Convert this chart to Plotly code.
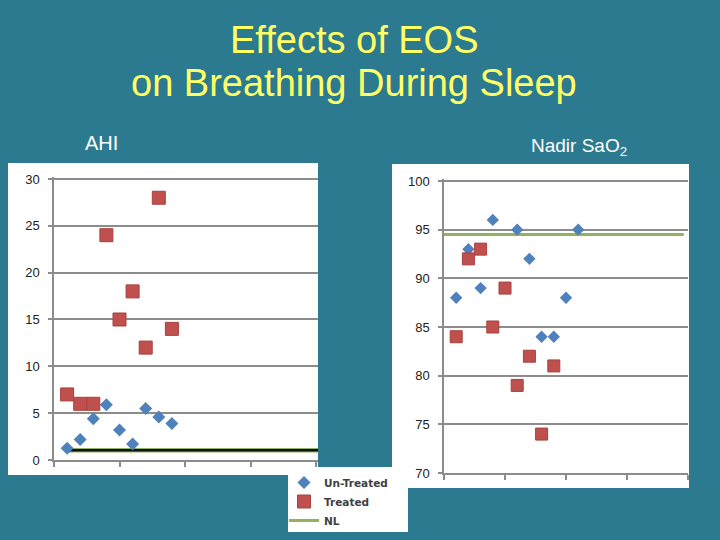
import plotly.graph_objects as go

# ---- data ----
ahi_x = [1, 2, 3, 4, 5, 6, 7, 8, 9]
ahi_untreated = [1.25, 2.2, 4.4, 5.9, 3.2, 1.7, 5.5, 4.6, 3.9]
ahi_treated = [7, 6, 6, 24, 15, 18, 12, 28, 14]
ahi_nl_x = [1, 21]
ahi_nl = [1.05, 1.05]

sao2_untreated_x = [1, 2, 3, 4, 6, 7, 8, 9, 10, 11]
sao2_untreated = [88, 93, 89, 96, 95, 92, 84, 84, 88, 95]
sao2_treated_x = [1, 2, 3, 4, 5, 6, 7, 8, 9]
sao2_treated = [84, 92, 93, 85, 89, 79, 82, 74, 81]
sao2_nl_x = [0, 19.65]
sao2_nl = [94.5, 94.5]

ahi_ticks = [0, 5, 10, 15, 20, 25, 30]
sao2_ticks = [70, 75, 80, 85, 90, 95, 100]
x_ticks = [0, 5, 10, 15, 20]

BLUE = "#4F81BD"
RED = "#C0504D"
GREEN = "#90B35C"
GRID = "#8C8C8C"
BG = "#2C7A8F"
W, H = 720, 540

def px(x):
    return x / W

def py(y):
    return 1 - y / H

fig = go.Figure()

# Left chart (AHI)
fig.add_trace(go.Scatter(x=ahi_nl_x, y=ahi_nl, mode="lines", name="NL",
                         line=dict(color=GREEN, width=4.5), xaxis="x", yaxis="y",
                         showlegend=False))
fig.add_trace(go.Scatter(x=ahi_nl_x, y=ahi_nl, mode="lines", name="NL",
                         line=dict(color="#111111", width=2.5), xaxis="x", yaxis="y",
                         showlegend=False))
fig.add_trace(go.Scatter(x=ahi_x, y=ahi_untreated, mode="markers", name="Un-Treated",
                         marker=dict(symbol="diamond", size=10, color=BLUE,
                                     line=dict(width=0)),
                         xaxis="x", yaxis="y", legendrank=1))
fig.add_trace(go.Scatter(x=ahi_x, y=ahi_treated, mode="markers", name="Treated",
                         marker=dict(symbol="square", size=13, color=RED,
                                     line=dict(width=1, color="#A8403D")),
                         xaxis="x", yaxis="y", legendrank=2))

# Right chart (Nadir SaO2)
fig.add_trace(go.Scatter(x=sao2_nl_x, y=sao2_nl, mode="lines", name="NL",
                         line=dict(color=GREEN, width=3), xaxis="x2", yaxis="y2",
                         legendrank=3))
fig.add_trace(go.Scatter(x=sao2_untreated_x, y=sao2_untreated, mode="markers",
                         name="Un-Treated",
                         marker=dict(symbol="diamond", size=9.5, color=BLUE,
                                     line=dict(width=0)),
                         xaxis="x2", yaxis="y2", showlegend=False))
fig.add_trace(go.Scatter(x=sao2_treated_x, y=sao2_treated, mode="markers", name="Treated",
                         marker=dict(symbol="square", size=12, color=RED,
                                     line=dict(width=1, color="#A8403D")),
                         xaxis="x2", yaxis="y2", showlegend=False))

axis_common = dict(showline=True, linecolor=GRID, linewidth=1.5, zeroline=False,
                   ticks="outside", tickcolor=GRID, tickwidth=1.5,
                   tickfont=dict(family="Liberation Sans", size=13, color="#222222"))

left_y_px_per = (460 - 179) / 30.0
left_top = 460 - 30.2 * left_y_px_per
right_y_px_per = (473 - 181) / 30.0
right_top = 473 - 30.2 * right_y_px_per

fig.update_layout(
    xaxis=dict(domain=[px(54), px(318)], range=[0, 264 / 13.1], tickvals=x_ticks,
               showticklabels=False, showgrid=False, ticklen=5, anchor="y", **axis_common),
    yaxis=dict(domain=[py(460), py(left_top)], range=[0, 30.2], tickvals=ahi_ticks,
               showgrid=True, gridcolor=GRID, gridwidth=1.5, ticklen=4, anchor="x",
               ticklabelstandoff=6, **axis_common),
    xaxis2=dict(domain=[px(444), px(688)], range=[0, 20], tickvals=x_ticks,
                showticklabels=False, showgrid=False, ticklen=5, anchor="y2", **axis_common),
    yaxis2=dict(domain=[py(473), py(right_top)], range=[70, 100.2], tickvals=sao2_ticks,
                showgrid=True, gridcolor=GRID, gridwidth=1.5, ticklen=4, anchor="x2",
                ticklabelstandoff=6, **axis_common),
)

shapes = [
    dict(type="rect", xref="paper", yref="paper", x0=px(8), x1=px(318), y0=py(475), y1=py(163),
         fillcolor="white", line=dict(width=0), layer="below"),
    dict(type="rect", xref="paper", yref="paper", x0=px(392), x1=px(689), y0=py(488), y1=py(164),
         fillcolor="white", line=dict(width=0), layer="below"),
    dict(type="rect", xref="paper", yref="paper", x0=px(288), x1=px(408), y0=py(532), y1=py(467),
         fillcolor="white", line=dict(width=0), layer="below"),
]

annotations = [
    dict(text="Effects of EOS", x=px(354), y=py(40), xref="paper", yref="paper",
         showarrow=False, xanchor="center", yanchor="middle",
         font=dict(family="Liberation Sans", size=38, color="#FFFF66")),
    dict(text="on Breathing During Sleep", x=px(354), y=py(83), xref="paper", yref="paper",
         showarrow=False, xanchor="center", yanchor="middle",
         font=dict(family="Liberation Sans", size=38, color="#FFFF66")),
    dict(text="AHI", x=px(101), y=py(143), xref="paper", yref="paper",
         showarrow=False, xanchor="center", yanchor="middle",
         font=dict(family="Liberation Sans", size=20, color="white")),
    dict(text="Nadir SaO<sub>2</sub>", x=px(579), y=py(147), xref="paper", yref="paper",
         showarrow=False, xanchor="center", yanchor="middle",
         font=dict(family="Liberation Sans", size=19, color="white")),
]

fig.update_layout(
    width=W, height=H, margin=dict(l=0, r=0, t=0, b=0, autoexpand=False),
    paper_bgcolor=BG, plot_bgcolor="rgba(0,0,0,0)",
    shapes=shapes, annotations=annotations,
    showlegend=True,
    legend=dict(x=px(284), y=py(468), xanchor="left", yanchor="top",
                bgcolor="rgba(0,0,0,0)", tracegroupgap=0, itemwidth=30,
                font=dict(family="DejaVu Sans", size=10.5, color="#404040", weight="bold")),
)

fig.write_html("out.html")
